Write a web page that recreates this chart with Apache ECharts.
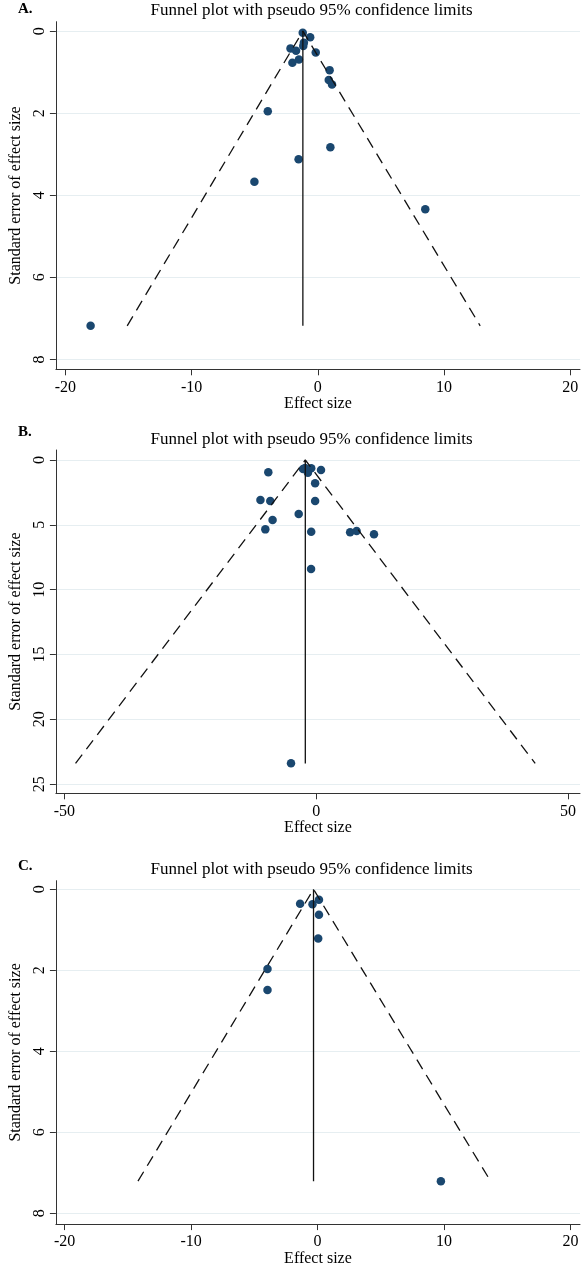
<!DOCTYPE html>
<html>
<head>
<meta charset="utf-8">
<script src="https://cdn.jsdelivr.net/npm/echarts@6/dist/echarts.min.js"></script>
<style>
  html, body { margin: 0; padding: 0; background: #fff; }
  #chart { width: 582px; height: 1268px; }
</style>
</head>
<body>
<div id="chart"></div>
<script>
// Panel A: effect size / standard error of each study
const effA = [-1.19, -0.60, -1.10, -1.15, -2.16, -1.72, -0.16, -2.01, -1.49, 0.94, 0.87, 1.13, -3.96, 1.00, -1.52, -5.02, 8.52, -18.0];
const seA  = [0.04, 0.15, 0.28, 0.36, 0.42, 0.48, 0.52, 0.77, 0.69, 0.95, 1.19, 1.30, 1.95, 2.83, 3.12, 3.67, 4.34, 7.18];
// pooled effect, largest SE, lower and upper limit at largest SE
const funnelA = [-1.18, 7.18, -15.1, 12.87];

// Panel B
const effB = [-2.61, -0.99, -1.64, -2.2, 0.96, -9.51, -0.21, -11.07, -9.12, -0.21, -3.47, -8.66, -10.10, -0.99, 6.74, 8.03, 11.48, -1.02, -5.0];
const seB  = [0.69, 0.64, 0.98, 0.62, 0.77, 0.95, 1.80, 3.08, 3.16, 3.16, 4.16, 4.63, 5.35, 5.53, 5.58, 5.48, 5.73, 8.40, 23.39];
const funnelB = [-2.16, 23.4, -47.8, 43.5];

// Panel C
const effC = [-1.38, -0.40, 0.11, 0.11, 0.05, -3.96, -3.96, 9.75];
const seC  = [0.36, 0.37, 0.26, 0.63, 1.22, 1.97, 2.49, 7.21];
const funnelC = [-0.32, 7.21, -14.2, 13.68];

// tick labels
const xTicksA = [-20, -10, 0, 10, 20];
const yTicksA = [0, 2, 4, 6, 8];
const xTicksB = [-50, 0, 50];
const yTicksB = [0, 5, 10, 15, 20, 25];
const xTicksC = [-20, -10, 0, 10, 20];
const yTicksC = [0, 2, 4, 6, 8];

const panelLabels = ['A.', 'B.', 'C.'];
const titleText = 'Funnel plot with pseudo 95% confidence limits';

const FONT = 'Liberation Serif';
const AXIS_COLOR = '#333';
const GRID_COLOR = '#e6eef1';
const DOT_COLOR = '#1a476f';

const grids = [
  { left: 42.7, top: 21.7, width: 537.3, height: 347.6 },
  { left: 45.7, top: 450, width: 534.3, height: 343.3 },
  { left: 43.4, top: 880.7, width: 536.6, height: 347 }
];
const xRanges = [[-20.75, 20.78], [-51.7, 52.4], [-20.69, 20.75]];
const yRanges = [[-0.23, 8.24], [-0.77, 25.7], [-0.21, 8.27]];
const xTicks = [xTicksA, xTicksB, xTicksC];
const yTicks = [yTicksA, yTicksB, yTicksC];
const titleY = [2.5, 431, 861];
const labelY = [1.5, 424.5, 859];

function xAxisFor(i) {
  return {
    type: 'value', gridIndex: i, min: xRanges[i][0], max: xRanges[i][1],
    name: 'Effect size', nameLocation: 'middle', nameGap: 25,
    nameTextStyle: { fontFamily: FONT, fontSize: 16, color: '#000' },
    axisLine: { show: true, onZero: false, lineStyle: { color: AXIS_COLOR, width: 1 } },
    axisTick: { show: true, length: 6, customValues: xTicks[i], lineStyle: { color: AXIS_COLOR } },
    axisLabel: { customValues: xTicks[i], margin: 10, fontFamily: FONT, fontSize: 16, color: '#000' },
    splitLine: { show: false }
  };
}

function yAxisFor(i) {
  return {
    type: 'value', gridIndex: i, inverse: true, min: yRanges[i][0], max: yRanges[i][1],
    name: 'Standard error of effect size', nameLocation: 'middle', nameGap: 26, nameRotate: 90,
    nameTextStyle: { fontFamily: FONT, fontSize: 16, color: '#000' },
    axisLine: { show: true, onZero: false, lineStyle: { color: AXIS_COLOR, width: 1 } },
    axisTick: { show: true, length: 6, customValues: yTicks[i], lineStyle: { color: AXIS_COLOR } },
    axisLabel: { customValues: yTicks[i], rotate: 90, margin: 8, fontFamily: FONT, fontSize: 16, color: '#000' },
    splitLine: { show: true, lineStyle: { color: GRID_COLOR, width: 1 } }
  };
}

const panels = [[effA, seA, funnelA], [effB, seB, funnelB], [effC, seC, funnelC]];
let series = [];
panels.forEach(([eff, se, f], i) => {
  // pseudo 95% limits
  series.push({
    type: 'line', xAxisIndex: i, yAxisIndex: i, symbol: 'none', silent: true,
    data: [[f[2], f[1]], [f[0], 0], [f[3], f[1]]],
    lineStyle: { color: '#111', width: 1.3, type: [11, 7] }
  });
  // pooled effect line
  series.push({
    type: 'line', xAxisIndex: i, yAxisIndex: i, symbol: 'none', silent: true,
    data: [[f[0], 0], [f[0], f[1]]],
    lineStyle: { color: '#111', width: 1.3 }
  });
  series.push({
    type: 'scatter', xAxisIndex: i, yAxisIndex: i, symbolSize: 8.5,
    itemStyle: { color: DOT_COLOR, opacity: 1 },
    data: eff.map((v, k) => [v, se[k]])
  });
});

let titles = [];
for (let i = 0; i < 3; i++) {
  titles.push({
    text: titleText, left: 311.5, top: titleY[i], textAlign: 'center', padding: 0,
    textStyle: { fontFamily: FONT, fontSize: 17, fontWeight: 'normal', color: '#000' }
  });
  titles.push({
    text: panelLabels[i], left: 18, top: labelY[i], padding: 0,
    textStyle: { fontFamily: FONT, fontSize: 15, fontWeight: 'bold', color: '#000' }
  });
}

const chart = echarts.init(document.getElementById('chart'), null, { renderer: 'canvas' });
chart.setOption({
  animation: false,
  backgroundColor: '#fff',
  title: titles,
  grid: grids,
  xAxis: [0, 1, 2].map(xAxisFor),
  yAxis: [0, 1, 2].map(yAxisFor),
  series: series
});
</script>
</body>
</html>
